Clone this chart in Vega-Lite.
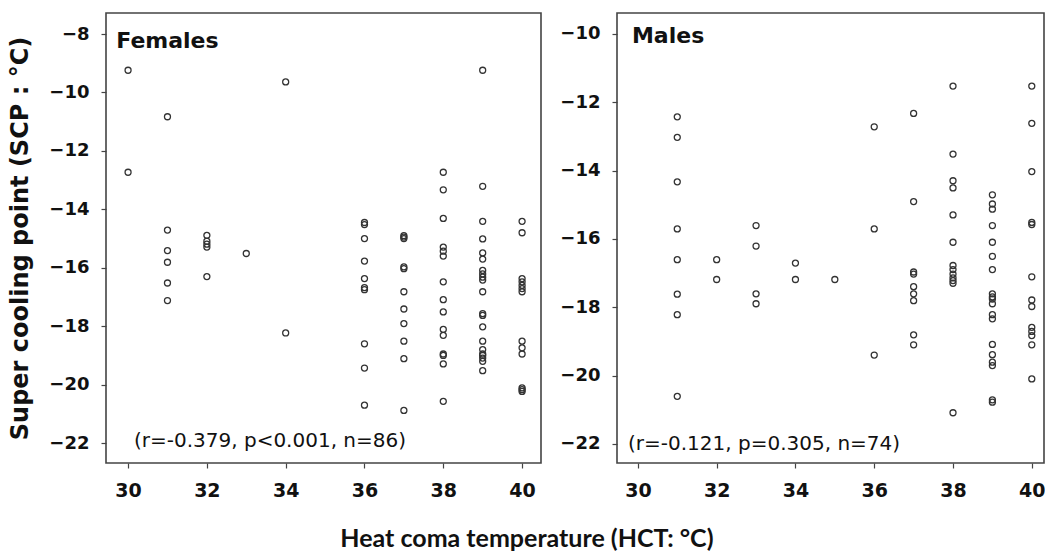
{
  "$schema": "https://vega.github.io/schema/vega-lite/v6.json",
  "background": "white",
  "padding": {"left": 8, "top": 12, "right": 0, "bottom": 0},
  "bounds": "flush",
  "spacing": 76,
  "title": {"text": "Heat coma temperature (HCT: °C)", "orient": "bottom", "anchor": "middle", "font": "Lato", "fontSize": 25, "fontWeight": "bold", "color": "#111", "offset": 26},
  "config": {
    "view": {"stroke": "#444", "strokeWidth": 1.6},
    "axis": {"grid": false, "domain": false, "labelFont": "DejaVu Sans", "labelFontWeight": "bold", "labelColor": "#111", "tickColor": "#444", "tickSize": 5, "tickWidth": 1.2, "titleFont": "DejaVu Sans", "titleFontWeight": "bold", "titleColor": "#111"},
    "axisX": {"labelFontSize": 19, "labelPadding": 13},
    "axisY": {"labelFontSize": 18, "labelPadding": 12, "titleFontSize": 24, "titlePadding": 16}
  },
  "datasets": {
    "pts": [
      {"sex": "Females", "hct": 30, "scp": -9.24}, {"sex": "Females", "hct": 30, "scp": -12.73},
      {"sex": "Females", "hct": 31, "scp": -10.83}, {"sex": "Females", "hct": 31, "scp": -14.71}, {"sex": "Females", "hct": 31, "scp": -15.41}, {"sex": "Females", "hct": 31, "scp": -15.81}, {"sex": "Females", "hct": 31, "scp": -16.52}, {"sex": "Females", "hct": 31, "scp": -17.12},
      {"sex": "Females", "hct": 32, "scp": -14.89}, {"sex": "Females", "hct": 32, "scp": -15.09}, {"sex": "Females", "hct": 32, "scp": -15.19}, {"sex": "Females", "hct": 32, "scp": -15.29}, {"sex": "Females", "hct": 32, "scp": -16.30},
      {"sex": "Females", "hct": 33, "scp": -15.51},
      {"sex": "Females", "hct": 34, "scp": -9.64}, {"sex": "Females", "hct": 34, "scp": -18.23},
      {"sex": "Females", "hct": 36, "scp": -14.45}, {"sex": "Females", "hct": 36, "scp": -14.52}, {"sex": "Females", "hct": 36, "scp": -15.0}, {"sex": "Females", "hct": 36, "scp": -15.77}, {"sex": "Females", "hct": 36, "scp": -16.37}, {"sex": "Females", "hct": 36, "scp": -16.68}, {"sex": "Females", "hct": 36, "scp": -16.75}, {"sex": "Females", "hct": 36, "scp": -18.6}, {"sex": "Females", "hct": 36, "scp": -19.43}, {"sex": "Females", "hct": 36, "scp": -20.7},
      {"sex": "Females", "hct": 37, "scp": -14.9}, {"sex": "Females", "hct": 37, "scp": -14.95}, {"sex": "Females", "hct": 37, "scp": -15.0}, {"sex": "Females", "hct": 37, "scp": -15.97}, {"sex": "Females", "hct": 37, "scp": -16.03}, {"sex": "Females", "hct": 37, "scp": -16.82}, {"sex": "Females", "hct": 37, "scp": -17.41}, {"sex": "Females", "hct": 37, "scp": -17.91}, {"sex": "Females", "hct": 37, "scp": -18.51}, {"sex": "Females", "hct": 37, "scp": -19.11}, {"sex": "Females", "hct": 37, "scp": -20.88},
      {"sex": "Females", "hct": 38, "scp": -12.73}, {"sex": "Females", "hct": 38, "scp": -13.33}, {"sex": "Females", "hct": 38, "scp": -14.31}, {"sex": "Females", "hct": 38, "scp": -15.29}, {"sex": "Females", "hct": 38, "scp": -15.43}, {"sex": "Females", "hct": 38, "scp": -15.60}, {"sex": "Females", "hct": 38, "scp": -16.48}, {"sex": "Females", "hct": 38, "scp": -17.09}, {"sex": "Females", "hct": 38, "scp": -17.51}, {"sex": "Females", "hct": 38, "scp": -18.11}, {"sex": "Females", "hct": 38, "scp": -18.31}, {"sex": "Females", "hct": 38, "scp": -18.95}, {"sex": "Females", "hct": 38, "scp": -19.0}, {"sex": "Females", "hct": 38, "scp": -19.29}, {"sex": "Females", "hct": 38, "scp": -20.57},
      {"sex": "Females", "hct": 39, "scp": -9.24}, {"sex": "Females", "hct": 39, "scp": -13.21}, {"sex": "Females", "hct": 39, "scp": -14.41}, {"sex": "Females", "hct": 39, "scp": -15.01}, {"sex": "Females", "hct": 39, "scp": -15.49}, {"sex": "Females", "hct": 39, "scp": -15.70}, {"sex": "Females", "hct": 39, "scp": -16.09}, {"sex": "Females", "hct": 39, "scp": -16.21}, {"sex": "Females", "hct": 39, "scp": -16.32}, {"sex": "Females", "hct": 39, "scp": -16.42}, {"sex": "Females", "hct": 39, "scp": -16.82}, {"sex": "Females", "hct": 39, "scp": -17.57}, {"sex": "Females", "hct": 39, "scp": -17.63}, {"sex": "Females", "hct": 39, "scp": -18.02}, {"sex": "Females", "hct": 39, "scp": -18.51}, {"sex": "Females", "hct": 39, "scp": -18.80}, {"sex": "Females", "hct": 39, "scp": -18.95}, {"sex": "Females", "hct": 39, "scp": -19.0}, {"sex": "Females", "hct": 39, "scp": -19.09}, {"sex": "Females", "hct": 39, "scp": -19.20}, {"sex": "Females", "hct": 39, "scp": -19.52},
      {"sex": "Females", "hct": 40, "scp": -14.41}, {"sex": "Females", "hct": 40, "scp": -14.80}, {"sex": "Females", "hct": 40, "scp": -16.37}, {"sex": "Females", "hct": 40, "scp": -16.48}, {"sex": "Females", "hct": 40, "scp": -16.60}, {"sex": "Females", "hct": 40, "scp": -16.71}, {"sex": "Females", "hct": 40, "scp": -16.82}, {"sex": "Females", "hct": 40, "scp": -18.51}, {"sex": "Females", "hct": 40, "scp": -18.74}, {"sex": "Females", "hct": 40, "scp": -18.95}, {"sex": "Females", "hct": 40, "scp": -20.11}, {"sex": "Females", "hct": 40, "scp": -20.17}, {"sex": "Females", "hct": 40, "scp": -20.23},

      {"sex": "Males", "hct": 31, "scp": -12.43}, {"sex": "Males", "hct": 31, "scp": -13.03}, {"sex": "Males", "hct": 31, "scp": -14.33}, {"sex": "Males", "hct": 31, "scp": -15.71}, {"sex": "Males", "hct": 31, "scp": -16.61}, {"sex": "Males", "hct": 31, "scp": -17.62}, {"sex": "Males", "hct": 31, "scp": -18.22}, {"sex": "Males", "hct": 31, "scp": -20.61},
      {"sex": "Males", "hct": 32, "scp": -16.61}, {"sex": "Males", "hct": 32, "scp": -17.19},
      {"sex": "Males", "hct": 33, "scp": -15.61}, {"sex": "Males", "hct": 33, "scp": -16.21}, {"sex": "Males", "hct": 33, "scp": -17.61}, {"sex": "Males", "hct": 33, "scp": -17.90},
      {"sex": "Males", "hct": 34, "scp": -16.71}, {"sex": "Males", "hct": 34, "scp": -17.19},
      {"sex": "Males", "hct": 35, "scp": -17.19},
      {"sex": "Males", "hct": 36, "scp": -12.72}, {"sex": "Males", "hct": 36, "scp": -15.71}, {"sex": "Males", "hct": 36, "scp": -19.40},
      {"sex": "Males", "hct": 37, "scp": -12.33}, {"sex": "Males", "hct": 37, "scp": -14.91}, {"sex": "Males", "hct": 37, "scp": -16.97}, {"sex": "Males", "hct": 37, "scp": -17.03}, {"sex": "Males", "hct": 37, "scp": -17.40}, {"sex": "Males", "hct": 37, "scp": -17.61}, {"sex": "Males", "hct": 37, "scp": -17.81}, {"sex": "Males", "hct": 37, "scp": -18.81}, {"sex": "Males", "hct": 37, "scp": -19.10},
      {"sex": "Males", "hct": 38, "scp": -11.53}, {"sex": "Males", "hct": 38, "scp": -13.52}, {"sex": "Males", "hct": 38, "scp": -14.30}, {"sex": "Males", "hct": 38, "scp": -14.51}, {"sex": "Males", "hct": 38, "scp": -15.30}, {"sex": "Males", "hct": 38, "scp": -16.10}, {"sex": "Males", "hct": 38, "scp": -16.78}, {"sex": "Males", "hct": 38, "scp": -16.90}, {"sex": "Males", "hct": 38, "scp": -17.03}, {"sex": "Males", "hct": 38, "scp": -17.14}, {"sex": "Males", "hct": 38, "scp": -17.22}, {"sex": "Males", "hct": 38, "scp": -17.30}, {"sex": "Males", "hct": 38, "scp": -21.09},
      {"sex": "Males", "hct": 39, "scp": -14.71}, {"sex": "Males", "hct": 39, "scp": -14.98}, {"sex": "Males", "hct": 39, "scp": -15.13}, {"sex": "Males", "hct": 39, "scp": -15.61}, {"sex": "Males", "hct": 39, "scp": -16.10}, {"sex": "Males", "hct": 39, "scp": -16.51}, {"sex": "Males", "hct": 39, "scp": -16.90}, {"sex": "Males", "hct": 39, "scp": -17.61}, {"sex": "Males", "hct": 39, "scp": -17.70}, {"sex": "Males", "hct": 39, "scp": -17.76}, {"sex": "Males", "hct": 39, "scp": -17.90}, {"sex": "Males", "hct": 39, "scp": -18.22}, {"sex": "Males", "hct": 39, "scp": -18.34}, {"sex": "Males", "hct": 39, "scp": -19.09}, {"sex": "Males", "hct": 39, "scp": -19.39}, {"sex": "Males", "hct": 39, "scp": -19.61}, {"sex": "Males", "hct": 39, "scp": -19.71}, {"sex": "Males", "hct": 39, "scp": -20.71}, {"sex": "Males", "hct": 39, "scp": -20.78},
      {"sex": "Males", "hct": 40, "scp": -11.53}, {"sex": "Males", "hct": 40, "scp": -12.62}, {"sex": "Males", "hct": 40, "scp": -14.03}, {"sex": "Males", "hct": 40, "scp": -15.52}, {"sex": "Males", "hct": 40, "scp": -15.58}, {"sex": "Males", "hct": 40, "scp": -17.11}, {"sex": "Males", "hct": 40, "scp": -17.79}, {"sex": "Males", "hct": 40, "scp": -17.98}, {"sex": "Males", "hct": 40, "scp": -18.59}, {"sex": "Males", "hct": 40, "scp": -18.71}, {"sex": "Males", "hct": 40, "scp": -18.83}, {"sex": "Males", "hct": 40, "scp": -19.10}, {"sex": "Males", "hct": 40, "scp": -20.10}
    ]
  },
  "hconcat": [
    {
      "width": 435,
      "height": 450,
      "layer": [
        {
          "data": {"name": "pts"},
          "transform": [{"filter": "datum.sex === 'Females'"}],
          "mark": {"type": "point", "shape": "circle", "filled": false, "size": 36, "strokeWidth": 1.3, "color": "#333", "opacity": 1},
          "encoding": {
            "x": {"field": "hct", "type": "quantitative", "scale": {"domain": [29.44, 40.48], "nice": false, "zero": false}, "axis": {"values": [30, 32, 34, 36, 38, 40], "title": null}},
            "y": {"field": "scp", "type": "quantitative", "scale": {"domain": [-22.68, -7.28], "nice": false, "zero": false}, "axis": {"values": [-22, -20, -18, -16, -14, -12, -10, -8], "title": "Super cooling point (SCP : °C)"}}
          }
        },
        {
          "data": {"values": [{"label": "Females"}]},
          "mark": {"type": "text", "align": "left", "baseline": "middle", "font": "DejaVu Sans", "fontWeight": "bold", "fontSize": 22, "color": "#111"},
          "encoding": {"x": {"datum": 29.7}, "y": {"datum": -8.24}, "text": {"field": "label"}}
        },
        {
          "data": {"values": [{"label": "(r=-0.379, p<0.001, n=86)"}]},
          "mark": {"type": "text", "align": "left", "baseline": "middle", "font": "DejaVu Sans", "fontSize": 20, "color": "#111"},
          "encoding": {"x": {"datum": 30.15}, "y": {"datum": -21.94}, "text": {"field": "label"}}
        }
      ]
    },
    {
      "width": 427,
      "height": 450,
      "layer": [
        {
          "data": {"name": "pts"},
          "transform": [{"filter": "datum.sex === 'Males'"}],
          "mark": {"type": "point", "shape": "circle", "filled": false, "size": 36, "strokeWidth": 1.3, "color": "#333", "opacity": 1},
          "encoding": {
            "x": {"field": "hct", "type": "quantitative", "scale": {"domain": [29.47, 40.31], "nice": false, "zero": false}, "axis": {"values": [30, 32, 34, 36, 38, 40], "title": null}},
            "y": {"field": "scp", "type": "quantitative", "scale": {"domain": [-22.56, -9.39], "nice": false, "zero": false}, "axis": {"values": [-22, -20, -18, -16, -14, -12, -10], "title": null}}
          }
        },
        {
          "data": {"values": [{"label": "Males"}]},
          "mark": {"type": "text", "align": "left", "baseline": "middle", "font": "DejaVu Sans", "fontWeight": "bold", "fontSize": 22, "color": "#111"},
          "encoding": {"x": {"datum": 29.85}, "y": {"datum": -10.06}, "text": {"field": "label"}}
        },
        {
          "data": {"values": [{"label": "(r=-0.121, p=0.305, n=74)"}]},
          "mark": {"type": "text", "align": "left", "baseline": "middle", "font": "DejaVu Sans", "fontSize": 20, "color": "#111"},
          "encoding": {"x": {"datum": 29.75}, "y": {"datum": -22.0}, "text": {"field": "label"}}
        }
      ]
    }
  ]
}
